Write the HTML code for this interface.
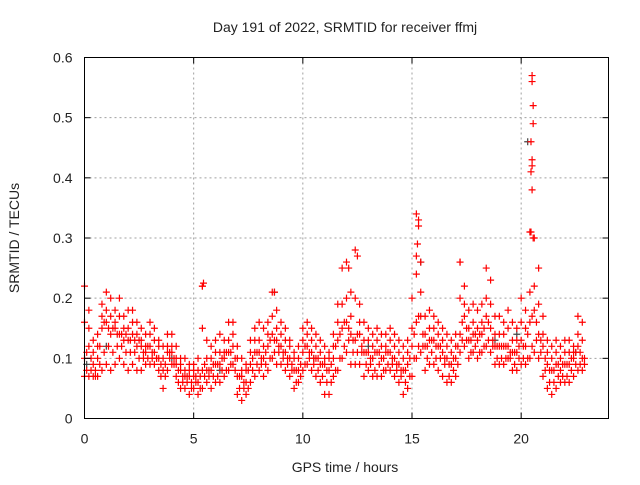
<!DOCTYPE html>
<html><head><meta charset="utf-8"><style>
body{margin:0;background:#fff}
svg text{font-family:"Liberation Sans",sans-serif;font-size:14px;fill:#222}
</style></head><body>
<svg id="chart" width="640" height="480" xmlns="http://www.w3.org/2000/svg">
<rect width="640" height="480" fill="#fff"/>
<text x="345" y="32" text-anchor="middle">Day 191 of 2022, SRMTID for receiver ffmj</text>
<text x="345" y="472" text-anchor="middle">GPS time / hours</text>
<text transform="translate(19,238) rotate(-90)" text-anchor="middle">SRMTID / TECUs</text>
<g id="grid"></g><g id="marks"></g><g id="axes"></g>
</svg>
<script>
const xTicks=[0,5,10,15,20];
const yTicks=[0,0.1,0.2,0.3,0.4,0.5,0.6];
const yTickLabels=["0","0.1","0.2","0.3","0.4","0.5","0.6"];
const step=0.2;
const midVals=[.10,.12,.09,.10,.15,.16,.14,.15,.14,.13,.13,.14,.12,.12,.11,.12,.11,.10,.08,.11,.11,.09,.08,.07,.07,.07,.06,.08,.08,.08,.09,.09,.10,.11,.12,.07,.07,.06,.09,.11,.11,.10,.12,.14,.13,.12,.11,.10,.08,.08,.11,.12,.11,.10,.09,.09,.08,.10,.13,.15,.16,.14,.13,.14,.11,.11,.10,.11,.10,.11,.11,.10,.09,.08,.09,.12,.16,.17,.12,.13,.13,.12,.11,.10,.09,.10,.14,.17,.13,.14,.13,.14,.17,.15,.12,.12,.12,.12,.11,.11,.13,.12,.16,.18,.14,.12,.09,.08,.09,.08,.09,.09,.10,.12,.10];
const hiVals=[.22,.18,.13,.14,.19,.21,.20,.18,.20,.17,.18,.18,.16,.15,.14,.16,.15,.13,.12,.14,.14,.12,.10,.10,.09,.09,.10,.22,.13,.12,.13,.14,.13,.16,.16,.12,.10,.09,.13,.15,.16,.15,.16,.21,.18,.16,.15,.13,.11,.12,.15,.16,.15,.14,.13,.12,.11,.14,.19,.25,.26,.21,.28,.19,.16,.15,.14,.15,.14,.14,.15,.14,.13,.12,.13,.20,.34,.26,.17,.18,.17,.16,.15,.14,.13,.14,.26,.22,.18,.19,.18,.19,.25,.23,.17,.17,.16,.18,.16,.15,.20,.18,.31,.30,.25,.17,.13,.12,.13,.12,.13,.13,.12,.17,.16];
const loVals=[.07,.07,.07,.07,.08,.09,.08,.09,.10,.09,.08,.09,.08,.08,.09,.09,.09,.08,.05,.08,.09,.07,.05,.05,.04,.05,.04,.05,.06,.05,.06,.06,.07,.08,.09,.04,.03,.04,.06,.07,.08,.07,.08,.10,.09,.09,.08,.07,.05,.06,.08,.09,.08,.07,.06,.04,.04,.07,.08,.10,.11,.09,.09,.09,.07,.08,.07,.07,.07,.08,.08,.07,.06,.04,.05,.07,.10,.11,.08,.09,.09,.08,.07,.06,.06,.07,.11,.12,.10,.11,.10,.11,.12,.11,.09,.09,.09,.10,.08,.08,.09,.09,.10,.11,.10,.07,.05,.04,.05,.06,.06,.06,.07,.08,.08];
const upperMidVals=[.16,.15,.11,.12,.17,.18,.17,.16,.17,.15,.15,.16,.14,.13,.12,.14,.13,.12,.10,.12,.12,.10,.09,.08,.08,.08,.08,.15,.10,.10,.11,.11,.11,.13,.14,.10,.08,.08,.11,.13,.13,.12,.14,.17,.15,.14,.13,.12,.10,.10,.13,.14,.13,.12,.11,.10,.10,.12,.16,.19,.20,.17,.20,.16,.13,.13,.12,.13,.12,.12,.13,.12,.11,.10,.11,.15,.24,.21,.14,.15,.15,.14,.13,.12,.11,.12,.20,.19,.15,.16,.15,.16,.20,.19,.14,.14,.14,.15,.13,.13,.16,.15,.21,.22,.19,.14,.11,.10,.11,.10,.11,.11,.11,.14,.13];
const halfStepMidVals=[.11,.10,.08,.12,.16,.15,.15,.14,.14,.14,.13,.13,.13,.11,.12,.11,.10,.09,.09,.11,.10,.08,.07,.07,.06,.07,.07,.09,.08,.09,.09,.10,.11,.11,.10,.07,.06,.08,.10,.11,.10,.11,.13,.13,.12,.11,.10,.09,.08,.09,.12,.11,.10,.10,.09,.08,.09,.12,.14,.16,.15,.13,.14,.12,.11,.10,.11,.11,.10,.11,.10,.09,.08,.08,.10,.14,.17,.14,.12,.13,.12,.12,.10,.09,.10,.12,.16,.15,.13,.14,.14,.15,.16,.13,.12,.12,.12,.11,.11,.12,.12,.14,.17,.16,.13,.10,.08,.08,.09,.09,.09,.10,.11,.11,.10];
const halfStepLowVals=[.08,.08,.07,.09,.11,.12,.11,.12,.12,.11,.11,.11,.10,.10,.10,.10,.10,.07,.07,.10,.09,.06,.06,.06,.05,.06,.05,.07,.07,.07,.07,.08,.08,.09,.08,.05,.05,.05,.08,.09,.09,.09,.10,.11,.11,.10,.09,.08,.06,.07,.09,.10,.09,.08,.07,.06,.06,.08,.10,.12,.13,.11,.11,.11,.09,.09,.08,.09,.08,.09,.09,.08,.07,.06,.07,.10,.12,.12,.10,.11,.10,.10,.09,.07,.08,.09,.13,.13,.11,.12,.11,.12,.13,.12,.10,.10,.10,.10,.09,.10,.10,.10,.12,.13,.11,.08,.06,.06,.07,.07,.07,.08,.09,.09,.09];
const spikeX=[20.5,20.5,20.55,20.55,20.45,20.5,20.5,20.45,20.5,20.45,20.55,15.3,15.3,15.25,15.2,12.5,12.1,17.2,5.4,5.45,8.7];
const spikeY=[0.57,0.56,0.52,0.49,0.46,0.43,0.42,0.41,0.38,0.31,0.30,0.33,0.32,0.29,0.27,0.27,0.25,0.26,0.22,0.225,0.21];
const grayX=[0.1,1.0,4.0,8.7,15.4,19.8,20.3,22.5,13.0,18.8,6.2,10.5];
const grayY=[0.09,0.12,0.10,0.21,0.26,0.14,0.46,0.11,0.12,0.13,0.08,0.10];
const L=84.5,R=608.5,T=57.5,B=418.5;
const sx=v=>L+(v/24)*(R-L);
const sy=v=>B-(v/0.6)*(B-T);
const NS="http://www.w3.org/2000/svg";
function mk(tag,parent){const e=document.createElementNS(NS,tag);parent.appendChild(e);return e;}
const grid=document.getElementById('grid'),marks=document.getElementById('marks'),axes=document.getElementById('axes');
yTicks.forEach((v,i)=>{
 if(i>0&&i<yTicks.length-1){const g=mk('line',grid);
 
 
 g.setAttribute('x1',L);g.setAttribute('x2',R);g.setAttribute('y1',sy(v));g.setAttribute('y2',sy(v));g.setAttribute('stroke','#a0a0a0');g.setAttribute('stroke-dasharray','2,3');}
 const t=mk('text',axes);
 
 
 t.setAttribute('x',L-12);t.setAttribute('y',sy(v)+5);t.setAttribute('text-anchor','end');t.textContent=yTickLabels[i];
 [[L,L+6],[R,R-6]].forEach(p=>{const k=mk('line',axes);
 
 
 k.setAttribute('x1',p[0]);k.setAttribute('x2',p[1]);k.setAttribute('y1',sy(v));k.setAttribute('y2',sy(v));k.setAttribute('stroke','#000');});
});
xTicks.forEach(v=>{
 if(v>0){const g=mk('line',grid);
 
 
 g.setAttribute('x1',sx(v));g.setAttribute('x2',sx(v));g.setAttribute('y1',T);g.setAttribute('y2',B);g.setAttribute('stroke','#a0a0a0');g.setAttribute('stroke-dasharray','2,3');}
 const t=mk('text',axes);
 
 
 t.setAttribute('x',sx(v));t.setAttribute('y',B+25);t.setAttribute('text-anchor','middle');t.textContent=v;
 [[B,B-6],[T,T+6]].forEach(p=>{const k=mk('line',axes);
 
 
 k.setAttribute('x1',sx(v));k.setAttribute('x2',sx(v));k.setAttribute('y1',p[0]);k.setAttribute('y2',p[1]);k.setAttribute('stroke','#000');});
});
const frame=mk('rect',axes);


frame.setAttribute('x',L);frame.setAttribute('y',T);frame.setAttribute('width',R-L);frame.setAttribute('height',B-T);frame.setAttribute('fill','none');frame.setAttribute('stroke','#000');
function plus(x,y,color,name){
 const p=mk('path',marks);
 
 
 const X=sx(x),Y=sy(y);
 p.setAttribute('d',`M${X-3.5},${Y}H${X+3.5}M${X},${Y-3.5}V${Y+3.5}`);
 p.setAttribute('stroke',color);p.setAttribute('stroke-width','1.2');p.setAttribute('fill','none');
}
grayX.forEach((x,i)=>plus(x,grayY[i],'#444','gray-point'));
[midVals,hiVals,loVals,upperMidVals].forEach(arr=>arr.forEach((v,i)=>plus(i*step,v,'#ff0000','srmtid-point')));
[halfStepMidVals,halfStepLowVals].forEach(arr=>arr.forEach((v,i)=>plus(i*step+step/2,v,'#ff0000','srmtid-point')));
spikeX.forEach((x,i)=>plus(x,spikeY[i],'#ff0000','srmtid-spike-point'));
</script>
</body></html>
